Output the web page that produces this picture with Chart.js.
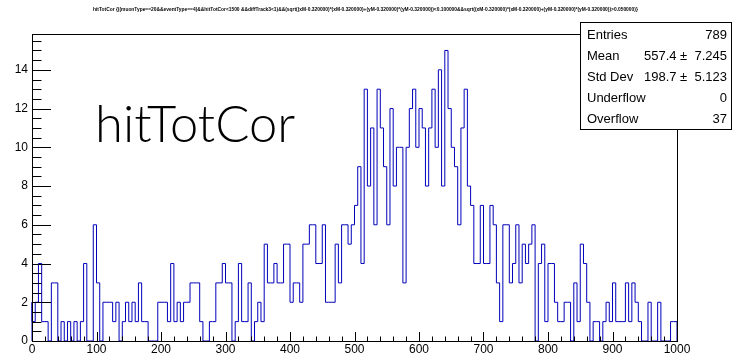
<!DOCTYPE html>
<html>
<head>
<meta charset="utf-8">
<script src="https://cdn.jsdelivr.net/npm/chart.js@4.4.1/dist/chart.umd.min.js"></script>
<style>
  body { margin: 0; background: #fff; }
  canvas { display: block; }
</style>
</head>
<body>
<canvas id="histChart" width="733" height="358"></canvas>
<script>
// histogram range / binning
const xMin = 0;
const xMax = 1000;
const binWidth = 5;

// bin contents, 20 bins per row (0-100, 100-200, ...)
const counts = [
  2, 1, 2, 4, 1, 1, 0, 3, 3, 0, 1, 0, 1, 0, 1, 0, 1, 4, 0, 0,
  6, 3, 0, 2, 2, 2, 1, 2, 0, 1, 2, 1, 2, 1, 3, 1, 1, 0, 0, 0,
  2, 2, 2, 1, 4, 1, 2, 1, 2, 2, 3, 3, 3, 1, 0, 0, 1, 1, 3, 3,
  4, 3, 3, 0, 1, 4, 1, 1, 3, 0, 1, 2, 1, 5, 3, 3, 4, 3, 3, 5,
  5, 2, 3, 3, 2, 5, 5, 6, 6, 4, 4, 6, 2, 2, 2, 5, 3, 6, 6, 5,
  6, 7, 9, 4, 13, 8, 11, 6, 13, 11, 9, 6, 12, 8, 10, 10, 3, 10, 12, 13,
  10, 12, 11, 8, 11, 13, 10, 14, 8, 15, 12, 10, 9, 6, 11, 13, 8, 7, 4, 4,
  7, 4, 4, 7, 6, 3, 1, 6, 6, 3, 4, 6, 3, 5, 4, 5, 6, 0, 4, 5,
  1, 4, 4, 2, 1, 1, 2, 2, 0, 3, 1, 5, 4, 2, 0, 1, 1, 0, 1, 2,
  1, 3, 1, 1, 1, 3, 1, 3, 2, 1, 0, 0, 2, 0, 0, 2, 0, 0, 0, 1
];

const yMax = 15.85;
const histName = "hitTotCor";
const titleText = "hitTotCor {((muonType==20&&eventType==4)&&hitTotCor<1500 &&diffTrack3<1)&&(sqrt((xM-0.320000)*(xM-0.320000)+(yM-0.320000)*(yM-0.320000))<0.100000&&sqrt((xM-0.320000)*(xM-0.320000)+(yM-0.320000)*(yM-0.320000))>0.050000)}";

const statsLabels = ["Entries", "Mean", "Std Dev", "Underflow", "Overflow"];
const statsValues = ["789", "557.4 \u00b1  7.245", "198.7 \u00b1  5.123", "0", "37"];

// step outline points built from the bins
const points = [{ x: xMin, y: 0 }];
counts.forEach(function(c, i) {
  points.push({ x: xMin + i * binWidth, y: c });
});
points.push({ x: xMax, y: counts[counts.length - 1] });
points.push({ x: xMax, y: 0 });

const helv = "'Liberation Sans', Arial, Helvetica, sans-serif";

const rootDecor = {
  id: "rootDecor",
  afterDraw(chart) {
    const ctx = chart.ctx;
    const a = chart.chartArea;
    const xs = chart.scales.x;
    const ys = chart.scales.y;
    ctx.save();
    ctx.strokeStyle = "#000";
    ctx.lineWidth = 1;

    // frame
    ctx.strokeRect(Math.round(a.left) + 0.5, Math.round(a.top) + 0.5,
      Math.round(a.right - a.left), Math.round(a.bottom - a.top));

    // ticks inside the frame
    ctx.beginPath();
    for (let v = xMin; v <= xMax; v += 20) {
      const px = Math.round(xs.getPixelForValue(v)) + 0.5;
      const len = (v % 100 === 0) ? 9 : 4.5;
      ctx.moveTo(px, a.bottom);
      ctx.lineTo(px, a.bottom - len);
    }
    for (let v = 0; v <= yMax; v += 0.5) {
      const py = Math.round(ys.getPixelForValue(v)) + 0.5;
      const len = (v % 2 === 0) ? 19 : 9.5;
      ctx.moveTo(a.left, py);
      ctx.lineTo(a.left + len, py);
    }
    ctx.stroke();

    // title
    ctx.fillStyle = "#000";
    ctx.textBaseline = "middle";
    ctx.textAlign = "left";
    ctx.font = "bold 10px " + helv;
    const tw = ctx.measureText(titleText).width;
    const fs = 10 * 547 / tw;
    ctx.font = "bold " + fs.toFixed(2) + "px " + helv;
    ctx.fillText(titleText, 93, 10);

    // big label
    ctx.font = "300 48px Lato, 'Open Sans', sans-serif";
    const bw = ctx.measureText(histName).width;
    const bfs = 48 * 200 / bw;
    ctx.font = "300 " + bfs.toFixed(1) + "px Lato, 'Open Sans', sans-serif";
    ctx.textBaseline = "alphabetic";
    ctx.fillText(histName, 95, 142);

    // stats box
    const bx = 580, by = 22, bwid = 151, bh = 107;
    ctx.fillStyle = "#fff";
    ctx.fillRect(bx, by, bwid, bh);
    ctx.strokeRect(bx + 0.5, by + 0.5, bwid, bh);
    ctx.fillStyle = "#000";
    ctx.font = "13px " + helv;
    ctx.textBaseline = "middle";
    statsLabels.forEach(function(lab, i) {
      const ty = 35 + i * 21;
      ctx.textAlign = "left";
      ctx.fillText(lab, 587, ty);
      ctx.textAlign = "right";
      ctx.fillText(statsValues[i], 727, ty);
    });
    ctx.restore();
  }
};

new Chart(document.getElementById("histChart"), {
  type: "line",
  data: {
    datasets: [{
      data: points,
      stepped: "after",
      borderColor: "#0000bb",
      borderWidth: 1,
      pointRadius: 0,
      fill: false,
      clip: 2
    }]
  },
  options: {
    responsive: false,
    animation: false,
    devicePixelRatio: 1,
    layout: { padding: { left: 0, top: 34, right: 56, bottom: 0 } },
    plugins: { legend: { display: false }, tooltip: { enabled: false }, title: { display: false } },
    scales: {
      x: {
        type: "linear",
        min: xMin,
        max: xMax,
        grid: { display: false, drawTicks: false },
        border: { display: false },
        ticks: {
          stepSize: 100,
          autoSkip: false,
          maxRotation: 0,
          padding: 1,
          color: "#000",
          font: { family: helv, size: 12 },
          callback: function(v) { return String(v); }
        },
        afterFit(scale) { scale.height = 17; }
      },
      y: {
        min: 0,
        max: yMax,
        grid: { display: false, drawTicks: false },
        border: { display: false },
        ticks: {
          stepSize: 2,
          includeBounds: false,
          padding: 4,
          color: "#000",
          font: { family: helv, size: 12 }
        },
        afterFit(scale) { scale.width = 32; }
      }
    }
  },
  plugins: [rootDecor]
});
</script>
</body>
</html>
